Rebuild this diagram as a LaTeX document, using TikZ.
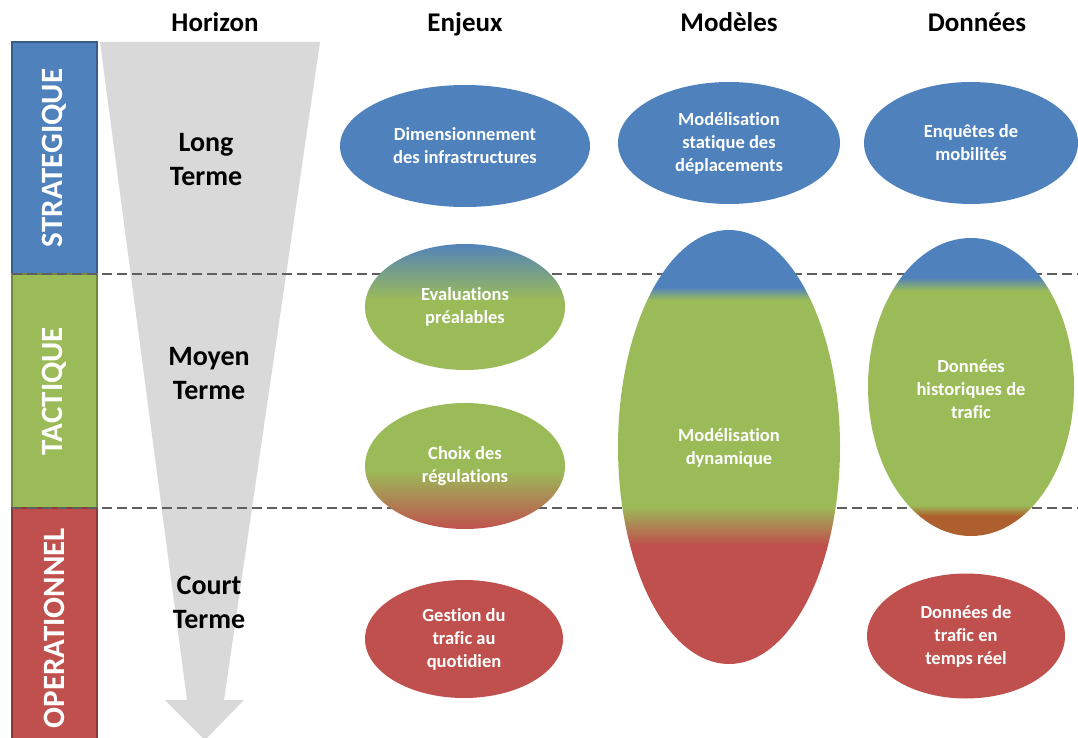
\documentclass[tikz,border=0pt]{standalone}
\usepackage{fontspec}
\setmainfont[Ligatures=NoCommon]{Carlito}
\usetikzlibrary{shapes.geometric,positioning}
\definecolor{sblue}{HTML}{4F81BD}
\definecolor{sblueb}{HTML}{385D8A}
\definecolor{sgreen}{HTML}{9BBB59}
\definecolor{sgreenb}{HTML}{71893F}
\definecolor{sred}{HTML}{C0504D}
\definecolor{sredb}{HTML}{8C3836}
\definecolor{sbrown}{HTML}{AD5F2D}
\definecolor{funnelgray}{HTML}{D9D9D9}
\definecolor{sepgray}{HTML}{5F5F5F}

\begin{document}
\begin{tikzpicture}[x=1pt,y=-1pt,
	head/.style={anchor=base, font=\bfseries\fontsize{27}{30}\selectfont},
	term/.style={font=\bfseries\fontsize{28}{34}\selectfont, align=center},
	level/.style={rotate=90, text=white, line width=1.5pt, minimum height=85, font=\bfseries\fontsize{31}{34}\selectfont},
	oval/.style={ellipse, inner sep=0pt, text=white, align=center, font=\bfseries\fontsize{18.5}{23}\selectfont},
	sep/.style={dash pattern=on 10pt off 5pt, line width=1.2pt, draw=sepgray}]
		\useasboundingbox (0,0) rectangle (1078,738);
		
		% column titles
		\node[head] (horizon) at (215,32) {Horizon};
		\node[head] (enjeux) at (465,32) {Enjeux};
		\node[head] (modeles) at (729,32) {Modèles};
		\node[head] (donnees) at (977,32) {Données};
		
		% levels
		\node[level, fill=sblue, draw=sblueb, minimum width=232] (strat) at (54.5,158) {STRATEGIQUE};
		\node[level, fill=sgreen, draw=sgreenb, minimum width=234] (tact) at (54.5,391) {TACTIQUE};
		\node[level, fill=sred, draw=sredb, minimum width=240] (oper) at (54.5,628) {OPERATIONNEL};
		
		% horizon arrow
		\fill[funnelgray] (100,42) -- (320,42) -- (224,700) -- (244,700) -- (205,740) -- (165,700) -- (187,700) -- cycle;
		\node[term] (long) at (206,160) {Long\\Terme};
		\node[term] (moyen) at (209,374) {Moyen\\Terme};
		\node[term] (court) at (209,602) {Court\\Terme};
		
		\draw[sep] (12,274) -- (1078,274);
		\draw[sep] (12,508) -- (1078,508);
		
		% strategique
		\node[oval, fill=sblue, minimum width=250, minimum height=122] (dim) at (465,146) {Dimensionnement\\des infrastructures};
		\node[oval, fill=sblue, minimum width=222, minimum height=122] (stat) at (729,143) {Modélisation\\statique des\\déplacements};
		\node[oval, fill=sblue, minimum width=214, minimum height=122] (enq) at (971,143) {Enquêtes de\\mobilités};
		
		% tactique
		\begin{scope}
			\clip (465,307) ellipse (100 and 63);
			\shade[top color=sblue, bottom color=sgreen] (360,242) rectangle (570,300);
			\fill[sgreen] (360,300) rectangle (570,372);
		\end{scope}
		\node[oval, minimum width=200, minimum height=126] (eval) at (465,307) {Evaluations\\préalables};
		
		\begin{scope}
			\clip (465,466) ellipse (100 and 63);
			\fill[sgreen] (360,400) rectangle (570,470);
			\shade[top color=sgreen, bottom color=sred] (360,470) rectangle (570,530);
		\end{scope}
		\node[oval, minimum width=200, minimum height=126] (choix) at (465,466) {Choix des\\régulations};
		
		\begin{scope}
			\clip (729,447) ellipse (111 and 217);
			\fill[sblue] (610,228) rectangle (850,287);
			\shade[top color=sblue, bottom color=sgreen] (610,287) rectangle (850,300);
			\fill[sgreen] (610,300) rectangle (850,506);
			\shade[top color=sgreen, bottom color=sred] (610,506) rectangle (850,545);
			\fill[sred] (610,545) rectangle (850,666);
		\end{scope}
		\node[oval, minimum width=222, minimum height=434] (dyn) at (729,448) {Modélisation\\dynamique};
		
		\begin{scope}
			\clip (971,387) ellipse (103 and 149);
			\fill[sblue] (860,236) rectangle (1078,277);
			\shade[top color=sblue, bottom color=sgreen] (860,277) rectangle (1078,291);
			\fill[sgreen] (860,291) rectangle (1078,505);
			\shade[top color=sgreen, bottom color=sbrown] (860,505) rectangle (1078,516);
			\fill[sbrown] (860,516) rectangle (1078,540);
		\end{scope}
		\node[oval, minimum width=206, minimum height=298] (hist) at (971,389) {Données\\historiques de\\trafic};
		
		% operationnel
		\node[oval, fill=sred, minimum width=198, minimum height=118] (gest) at (464,639) {Gestion du\\trafic au\\quotidien};
		\node[oval, fill=sred, minimum width=198, minimum height=125] (reel) at (966,636) {Données de\\trafic en\\temps réel};
	\end{tikzpicture}
\end{document}
